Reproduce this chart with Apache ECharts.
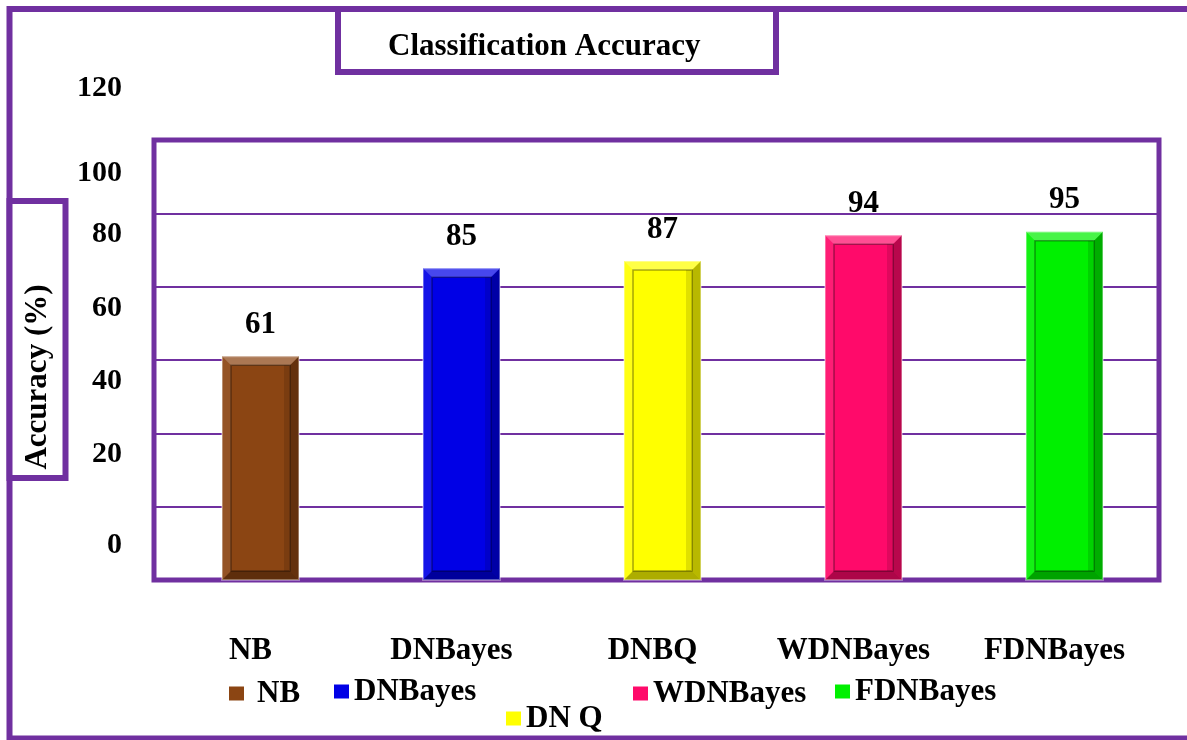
<!DOCTYPE html>
<html>
<head>
<meta charset="utf-8">
<title>Classification Accuracy</title>
<script src="https://cdn.jsdelivr.net/npm/echarts@6/dist/echarts.min.js"></script>
<style>
  html, body { margin: 0; padding: 0; background: #ffffff; }
  #chart { width: 1187px; height: 740px; }
</style>
</head>
<body>
<div id="chart"></div>
<script>
// Classifier names and their accuracy (%)
const categories = ['NB', 'DNBayes', 'DNBQ', 'WDNBayes', 'FDNBayes'];
const accuracy = [61, 85, 87, 94, 95];
const legendLabels = ['NB', 'DNBayes', 'DN Q', 'WDNBayes', 'FDNBayes'];
const barColors = ['#8B4513', '#0000E6', '#FFFF00', '#FF0A6A', '#00F000'];
const yMin = 0;
const yMax = 120;
const yStep = 20;

const PURPLE = '#7030A0';
const FONT = '"Liberation Serif", "Times New Roman", serif';
const BAR_W = 77;
const SPACER_W = 12;          // empty slot that nudges the bars right of the band centre
const BAR_SHIFT = SPACER_W / 2;
const BEVEL = 9;

const chart = echarts.init(document.getElementById('chart'), null, { renderer: 'canvas' });

// Empty spacer series occupying a thin slot before the bars
const spacerSeries = {
  name: 'spacer',
  type: 'bar',
  stack: 'spacer',
  barWidth: SPACER_W,
  barGap: '0%',
  silent: true,
  data: categories.map(() => '-')
};

// One bar series per classifier so every bar gets its own legend entry
const barSeries = categories.map((name, i) => ({
  name: name,
  type: 'bar',
  stack: 'acc',
  barWidth: BAR_W,
  barGap: '0%',
  data: categories.map((c, j) => (j === i ? accuracy[i] : '-')),
  itemStyle: { color: barColors[i] },
  label: {
    show: true,
    position: 'top',
    distance: 16,
    color: '#000',
    fontFamily: FONT,
    fontWeight: 'bold',
    fontSize: 31
  },
  z: 2
}));

// Bevelled frame painted over each bar
const bevelSeries = {
  type: 'custom',
  silent: true,
  z: 3,
  data: accuracy.map((v, i) => [i, v]),
  renderItem: function (params, api) {
    const top = api.coord([api.value(0), api.value(1)]);
    const base = api.coord([api.value(0), 0]);
    const cx = top[0] + BAR_SHIFT;
    const x0 = cx - BAR_W / 2, x1 = cx + BAR_W / 2;
    const y0 = top[1], y1 = base[1];
    const d = Math.min(BEVEL, (y1 - y0) / 3);
    const poly = (pts, fill) => ({ type: 'polygon', shape: { points: pts }, style: { fill: fill } });
    return {
      type: 'group',
      children: [
        poly([[x0, y0], [x1, y0], [x1 - d, y0 + d], [x0 + d, y0 + d]], 'rgba(255,255,255,0.28)'),
        poly([[x1, y0], [x1, y1], [x1 - d, y1 - d], [x1 - d, y0 + d]], 'rgba(0,0,0,0.28)'),
        poly([[x0, y1], [x1, y1], [x1 - d, y1 - d], [x0 + d, y1 - d]], 'rgba(0,0,0,0.32)'),
        poly([[x0, y0], [x0 + d, y0 + d], [x0 + d, y1 - d], [x0, y1]], 'rgba(255,255,255,0.08)'),
        {
          type: 'rect',
          shape: { x: x0 + d, y: y0 + d, width: BAR_W - 2 * d, height: y1 - y0 - 2 * d },
          style: { fill: 'none', stroke: 'rgba(0,0,0,0.35)', lineWidth: 1.5 }
        },
        {
          type: 'rect',
          shape: { x: x1 - d - 6, y: y0 + d, width: 5, height: y1 - y0 - 2 * d },
          style: { fill: 'rgba(0,0,0,0.12)' }
        },
        {
          type: 'rect',
          shape: { x: x0, y: y0, width: BAR_W, height: y1 - y0 },
          style: { fill: 'none', stroke: 'rgba(255,255,255,0.35)', lineWidth: 2 }
        }
      ]
    };
  }
};

// Legend entries are laid out individually, DN Q sits on a second row
const legendSpots = [
  { left: 229, top: 678 },
  { left: 334, top: 676 },
  { left: 506, top: 703 },
  { left: 633, top: 678 },
  { left: 835, top: 676 }
];
const legends = categories.map((name, i) => ({
  data: [name],
  left: legendSpots[i].left,
  top: legendSpots[i].top,
  padding: 0,
  icon: 'rect',
  itemWidth: 15,
  itemHeight: 14,
  selectedMode: false,
  formatter: () => legendLabels[i],
  textStyle: {
    color: '#000',
    fontFamily: FONT,
    fontWeight: 'bold',
    fontSize: 31,
    padding: i === 0 ? [0, 0, 0, 8] : 0
  }
}));

const tickText = { fontFamily: FONT, fontWeight: 'bold', fontSize: 30, color: '#000' };

const option = {
  backgroundColor: '#ffffff',
  animation: false,
  title: {
    text: 'Classification Accuracy',
    left: 338,
    top: 9,
    padding: [22, 76, 10, 50],
    borderColor: PURPLE,
    borderWidth: 6,
    textStyle: { fontFamily: FONT, fontWeight: 'bold', fontSize: 31, color: '#000' }
  },
  legend: legends,
  grid: {
    left: 154,
    right: 28,
    top: 140,
    bottom: 160,
    show: true,
    borderColor: PURPLE,
    borderWidth: 5,
    backgroundColor: 'transparent'
  },
  xAxis: {
    type: 'category',
    data: categories,
    axisLine: { show: false },
    axisTick: { show: false },
    axisLabel: {
      margin: 55,
      padding: [0, 8, 0, 0],
      color: '#000',
      fontFamily: FONT,
      fontWeight: 'bold',
      fontSize: 31
    }
  },
  yAxis: {
    type: 'value',
    min: yMin,
    max: yMax,
    interval: yStep,
    axisLine: { show: false },
    axisTick: { show: false },
    splitLine: { lineStyle: { color: PURPLE, width: 2 } },
    axisLabel: {
      margin: 32,
      color: '#000',
      fontFamily: FONT,
      fontWeight: 'bold',
      fontSize: 30,
      formatter: v => (v === 100 ? '{m|' + v + '}' : v === 0 ? '{z|' + v + '}' : '{u|' + v + '}'),
      rich: {
        u: Object.assign({ padding: [0, 0, 104, 0] }, tickText),
        m: Object.assign({ padding: [0, 0, 80, 0] }, tickText),
        z: Object.assign({ padding: [0, 0, 70, 0] }, tickText)
      }
    }
  },
  graphic: [
    {
      type: 'rect',
      shape: { x: 9.5, y: 9, width: 1200, height: 729.5 },
      style: { fill: 'none', stroke: PURPLE, lineWidth: 6 },
      z: 0
    },
    {
      type: 'group',
      children: [
        {
          type: 'rect',
          shape: { x: 9.5, y: 201, width: 56, height: 277 },
          style: { fill: '#fff', stroke: PURPLE, lineWidth: 6 }
        },
        {
          type: 'text',
          x: 38,
          y: 377,
          rotation: Math.PI / 2,
          style: {
            text: 'Accuracy (%)',
            fill: '#000',
            font: 'bold 31px ' + FONT,
            align: 'center',
            verticalAlign: 'middle'
          }
        }
      ]
    }
  ],
  series: [spacerSeries].concat(barSeries, [bevelSeries])
};

chart.setOption(option);
</script>
</body>
</html>
